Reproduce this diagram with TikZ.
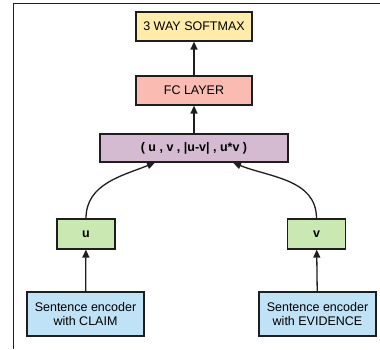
\documentclass[tikz,border=0pt]{standalone}
\usepackage{fontspec}
\setmainfont{Liberation Sans}
\usetikzlibrary{arrows.meta,calc}
\definecolor{softmaxfill}{RGB}{255,236,170}
\definecolor{fcfill}{RGB}{250,188,178}
\definecolor{concatfill}{RGB}{213,187,210}
\definecolor{vecfill}{RGB}{202,232,178}
\definecolor{encfill}{RGB}{192,226,246}
\definecolor{edge}{RGB}{30,30,30}
\tikzset{
  box/.style={draw=edge, line width=1.2pt, inner sep=0pt, align=center,
    font=\fontsize{12.5}{14.5}\selectfont},
  flow/.style={draw=edge, line width=1.3pt, -{Triangle[length=8pt,width=7pt]}},
}
\begin{document}
\begin{tikzpicture}[x=1pt,y=-1pt]
\useasboundingbox (0,0) rectangle (380,349);
% outer frame (only the left and top sides fall inside the picture)
\draw[edge, line width=1pt] (13,349) -- (13,3) -- (380,3);

\node[box, fill=softmaxfill, minimum width=116pt, minimum height=29pt] (softmax) at (194,26.5) {3 WAY SOFTMAX};
\node[box, fill=fcfill, minimum width=116pt, minimum height=29pt] (fc) at (194,90.5) {FC LAYER};
\node[box, fill=concatfill, minimum width=188pt, minimum height=28pt, font=\fontsize{12.5}{14.5}\selectfont\bfseries] (concat) at (194,148) {( u , v , |u-v| , u*v )};
\node[box, fill=vecfill, minimum width=58pt, minimum height=30pt, font=\fontsize{12.5}{14.5}\selectfont\bfseries] (u) at (86,234) {u};
\node[box, fill=vecfill, minimum width=58pt, minimum height=30pt, font=\fontsize{12.5}{14.5}\selectfont\bfseries] (v) at (316.5,234) {v};
\node[box, fill=encfill, minimum width=117pt, minimum height=44pt] (encc) at (85.5,314) {Sentence encoder\\with CLAIM};
\node[box, fill=encfill, minimum width=117pt, minimum height=44pt] (ence) at (317.5,314) {Sentence encoder\\with EVIDENCE};

\draw[flow] (fc) -- (softmax);
\draw[flow] (concat) -- (fc);
\draw[flow] (encc) -- (u);
\draw[flow] (ence) -- (v);
\draw[flow] (u.north) to[out=90, in=202] ($(concat.south)+(-39,0)$);
\draw[flow] (v.north) to[out=90, in=-22] ($(concat.south)+(39,0)$);
\end{tikzpicture}
\end{document}
